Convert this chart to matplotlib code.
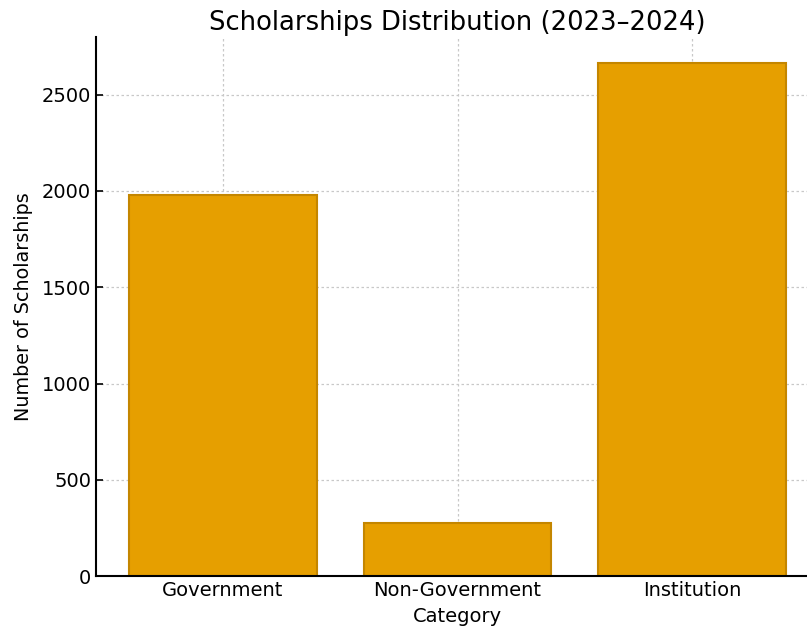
import numpy as np
import matplotlib
matplotlib.use("Agg")
import matplotlib.pyplot as plt

categories = ["Government", "Non-Government", "Institution"]
scholarships = [1980, 275, 2665]

fig = plt.figure(figsize=(8.07, 6.30), dpi=100)
ax = fig.add_axes([96/807, 1 - 576/630, (819 - 96)/807, (576 - 37)/630])

x = np.arange(len(categories))
ax.bar(x, scholarships, width=0.8, color="#E69F00", edgecolor="#C48600", linewidth=1.5, zorder=2)

ax.set_xticks(x)
ax.set_xticklabels(categories, fontsize=14)
ax.set_xlim(-0.54, 2.54)
ax.set_ylim(0, 2800)
ax.set_yticks([0, 500, 1000, 1500, 2000, 2500])
ax.tick_params(axis="y", labelsize=14, direction="in", length=5, width=1.2)
ax.tick_params(axis="x", direction="in", length=5, width=1.2)

ax.grid(True, linestyle=(0, (2, 2)), color="#c8c8c8", linewidth=0.9, zorder=0)
ax.set_axisbelow(True)

ax.spines["top"].set_visible(False)
ax.spines["right"].set_visible(False)
ax.spines["left"].set_linewidth(1.5)
ax.spines["bottom"].set_linewidth(1.5)

ax.set_xlabel("Category", fontsize=14, labelpad=5)
ax.set_ylabel("Number of Scholarships", fontsize=13.8, labelpad=6)
ax.set_title("Scholarships Distribution (2023\u20132024)", fontsize=18.6, pad=5)

fig.savefig("out.png", dpi=100)
